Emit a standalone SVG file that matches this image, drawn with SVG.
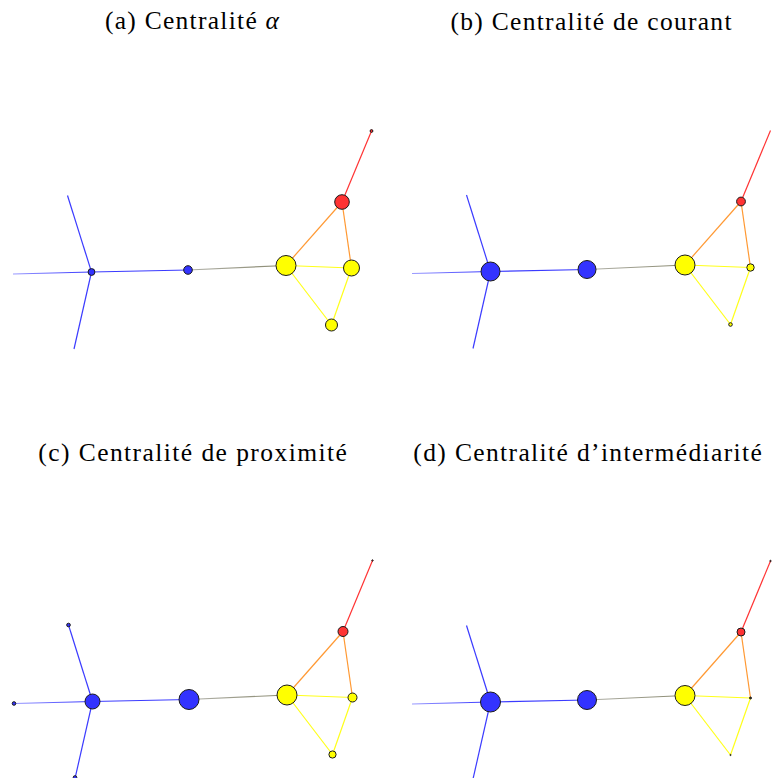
<svg xmlns="http://www.w3.org/2000/svg" width="772" height="778" viewBox="0 0 772 778">
<style>
.t{font-family:"Liberation Serif","Times New Roman",serif;font-size:25.5px;fill:#000}
.e{fill:none;stroke-width:1.2}
.eb{stroke:#3b3bff}
.eg{stroke:#9a9a86}
.eo{stroke:#ff9933}
.er{stroke:#ff3333}
.ey{stroke:#ffff1a}
.n{stroke:#1a1a1a;stroke-width:1}
.b{fill:#3333ff}
.r{fill:#ff3333}
.y{fill:#ffff00}
.k{fill:#333333}
</style>
<defs>
<linearGradient id="gl" gradientUnits="userSpaceOnUse" x1="13" y1="274" x2="91.5" y2="272"><stop offset="0" stop-color="#9a9aff"/><stop offset="1" stop-color="#3333ff"/></linearGradient>
<linearGradient id="gg" gradientUnits="userSpaceOnUse" x1="188" y1="270" x2="286" y2="265.5"><stop offset="0" stop-color="#b0b0a8"/><stop offset="1" stop-color="#88886e"/></linearGradient>
<g id="edges">
<line class="e eb" x1="91.5" y1="272" x2="67.5" y2="195.5"/>
<line class="e" stroke="url(#gl)" x1="91.5" y1="272" x2="13" y2="274"/>
<line class="e eb" x1="91.5" y1="272" x2="74" y2="349"/>
<line class="e eb" x1="91.5" y1="272" x2="188" y2="270"/>
<line class="e" stroke="url(#gg)" x1="188" y1="270" x2="286" y2="265.5"/>
<line class="e eo" x1="286" y1="265.5" x2="342" y2="202"/>
<line class="e eo" x1="342" y1="202" x2="351.5" y2="268"/>
<line class="e er" x1="342" y1="202" x2="371.5" y2="131"/>
<line class="e ey" x1="286" y1="265.5" x2="351.5" y2="268"/>
<line class="e ey" x1="286" y1="265.5" x2="331.5" y2="325"/>
<line class="e ey" x1="351.5" y1="268" x2="331.5" y2="325"/>
</g>
</defs>

<text class="t" x="105" y="29" textLength="174" lengthAdjust="spacing">(a) Centralité <tspan font-style="italic">α</tspan></text>
<text class="t" x="450.5" y="29.5" textLength="281" lengthAdjust="spacing">(b) Centralité de courant</text>
<text class="t" x="38.3" y="461" textLength="308.5" lengthAdjust="spacing">(c) Centralité de proximité</text>
<text class="t" x="413.3" y="460.7" textLength="348.5" lengthAdjust="spacing">(d) Centralité d’intermédiarité</text>

<g id="panel-a">
<g id="a-connectors"><use href="#edges"/></g>
<g id="a-TR"><circle class="n r" cx="371.5" cy="131" r="1.4"/></g>
<g id="a-R"><circle class="n r" cx="342" cy="202" r="7.3"/></g>
<g id="a-Y1"><circle class="n y" cx="286" cy="265.5" r="10"/></g>
<g id="a-Y2"><circle class="n y" cx="351.5" cy="268" r="8"/></g>
<g id="a-Y3"><circle class="n y" cx="331.5" cy="325" r="6"/></g>
<g id="a-B2"><circle class="n b" cx="188" cy="270" r="4.3"/></g>
<g id="a-B1"><circle class="n b" cx="91.5" cy="272" r="3.4"/></g>
</g>

<g id="panel-b" transform="translate(399,-0.5)">
<g id="b-connectors"><use href="#edges"/></g>
<g id="b-R"><circle class="n r" cx="342" cy="202" r="4.4"/></g>
<g id="b-Y1"><circle class="n y" cx="286" cy="265.5" r="10"/></g>
<g id="b-Y2"><circle class="n y" cx="351.5" cy="268" r="3.7"/></g>
<g id="b-Y3"><circle class="n y" cx="331.5" cy="325" r="1.8"/></g>
<g id="b-B2"><circle class="n b" cx="188" cy="270" r="9"/></g>
<g id="b-B1"><circle class="n b" cx="91.5" cy="272" r="9.5"/></g>
</g>

<g id="panel-c" transform="translate(1,429.5)">
<g id="c-connectors"><use href="#edges"/></g>
<g id="c-TR"><circle class="n r" cx="371.5" cy="131" r="0.7"/></g>
<g id="c-R"><circle class="n r" cx="342" cy="202" r="5"/></g>
<g id="c-Y1"><circle class="n y" cx="286" cy="265.5" r="10"/></g>
<g id="c-Y2"><circle class="n y" cx="351.5" cy="268" r="4.5"/></g>
<g id="c-Y3"><circle class="n y" cx="331.5" cy="325" r="3.6"/></g>
<g id="c-B2"><circle class="n b" cx="188" cy="270" r="10"/></g>
<g id="c-B1"><circle class="n b" cx="91.5" cy="272" r="7.5"/></g>
<g id="c-LT"><circle class="n b" cx="67.5" cy="195.5" r="1.8"/></g>
<g id="c-LL"><circle class="n b" cx="13" cy="274" r="1.8"/></g>
<g id="c-LB"><circle class="n b" cx="74" cy="348" r="1.8"/></g>
</g>

<g id="panel-d" transform="translate(399,430)">
<g id="d-connectors"><use href="#edges"/></g>
<g id="d-TR"><circle class="n r" cx="371.5" cy="131" r="0.7"/></g>
<g id="d-R"><circle class="n r" cx="342" cy="202" r="4"/></g>
<g id="d-Y1"><circle class="n y" cx="286" cy="265.5" r="10"/></g>
<g id="d-Y2"><circle class="n k" cx="351.5" cy="268" r="1"/></g>
<g id="d-Y3"><circle class="n y" cx="331.5" cy="325" r="0.6"/></g>
<g id="d-B2"><circle class="n b" cx="188" cy="270" r="9.5"/></g>
<g id="d-B1"><circle class="n b" cx="91.5" cy="272" r="10"/></g>
</g>
</svg>
